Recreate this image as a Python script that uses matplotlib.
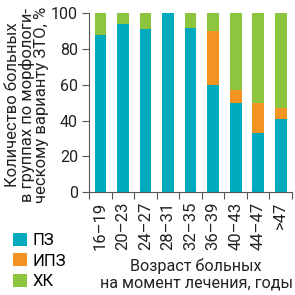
import numpy as np
import matplotlib.pyplot as plt

plt.rcParams['font.family'] = ['Roboto', 'DejaVu Sans']

# Data
ages = ['16–19', '20–23', '24–27', '28–31', '32–35', '36–39', '40–43', '44–47', '>47']
pz = [88, 94, 91, 100, 92, 60, 50, 33, 41]
ipz = [0, 0, 0, 0, 0, 30, 7, 17, 6]
hk = [12, 6, 9, 0, 8, 10, 43, 50, 53]

c_pz = '#00abbd'
c_ipz = '#f39322'
c_hk = '#8cc63f'
grey = '#555555'
txt = '#222222'

fig = plt.figure(figsize=(2.95, 2.95), dpi=100)
ax = fig.add_axes([0.302, 0.349, 0.688, 0.606])

x = np.arange(len(ages))
w = 0.52
ax.bar(x, pz, w, color=c_pz, label='ПЗ')
ax.bar(x, ipz, w, bottom=pz, color=c_ipz, label='ИПЗ')
ax.bar(x, hk, w, bottom=np.array(pz) + np.array(ipz), color=c_hk, label='ХК')

ax.set_xlim(-0.5, len(ages) - 0.5)
ax.set_ylim(0, 100)
ax.set_yticks([0, 20, 40, 60, 80, 100])
ax.set_xticks(x)
ax.set_xticklabels(ages, rotation=90, fontsize=12, color=txt)
ax.set_xticks(np.arange(-0.5, len(ages)), minor=True)
ax.tick_params(axis='x', which='major', length=0, pad=7)
ax.tick_params(axis='x', which='minor', length=5, color=grey, width=0.8)
ax.tick_params(axis='y', length=5, color=grey, width=0.8, labelsize=11.5,
               labelcolor=txt, pad=3)

for s in ['top', 'right']:
    ax.spines[s].set_visible(False)
for s in ['left', 'bottom']:
    ax.spines[s].set_color(grey)
    ax.spines[s].set_linewidth(0.8)

fig.text(27 / 295, 1 - 105 / 295,
         'Количество больных\nв группах по морфологи-\nческому варианту ЗТО, %',
         rotation=90, ha='center', va='center', fontsize=12, color=txt,
         linespacing=0.95)
fig.text(196 / 295, 1 - 274 / 295, 'Возраст больных\nна момент лечения, годы',
         ha='center', va='center', fontsize=11.6, color=txt, linespacing=1.12)

fig.legend(loc='lower left', bbox_to_anchor=(13 / 295, 6 / 295), frameon=False,
           fontsize=12, handlelength=0.85, handleheight=0.85, handletextpad=0.35,
           labelspacing=0.3, borderpad=0, borderaxespad=0)

fig.savefig('out.png', dpi=100)
